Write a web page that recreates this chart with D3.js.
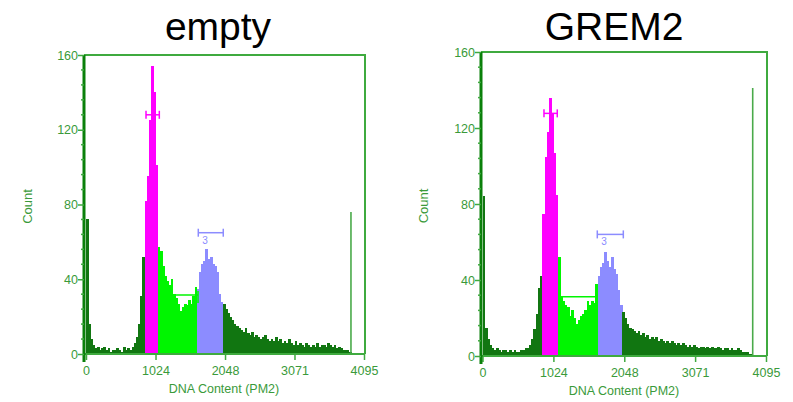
<!DOCTYPE html>
<html><head><meta charset="utf-8">
<script src="https://cdn.jsdelivr.net/npm/d3@7"></script>
<style>html,body{margin:0;padding:0;background:#fff;}svg{display:block;}</style>
</head><body>
<script>
// ---------- DATA ----------
const panelTitles = ["empty", "GREM2"];
const binWidth = 32;            // channels per histogram bin
const xTickValues = [0, 1024, 2048, 3071, 4095];
const yTickValues = [0, 40, 80, 120, 160];
const yMinorStep = 8;
const xLabel = "DNA Content (PM2)";
const yLabel = "Count";

// counts per 32-channel bin (128 bins, channel 0..4095)
const emptyCounts = [
  72,16,8,5,3,4,2,3,4,2, 3,1,2,2,3,2,1,4,2,3,
  2,4,6,9,16,31,52,82,95,125, 154,140,101,57,55,47,42,39,37,40,
  32,30,27,23,25,27,26,29,27,31, 36,35,44,48,50,56,51,52,48,47,
  44,32,28,27,24,22,20,18,16,15, 14,13,12,14,11,10,12,9,10,9,
  8,9,10,8,7,8,7,9,7,8, 6,7,6,8,6,5,7,5,6,5,
  4,6,5,4,5,4,6,4,5,5, 4,6,5,4,5,3,4,3,2,2,
  2,1,0,0,0,0,0,0
];
const grem2Counts = [
  84,15,9,6,4,3,4,3,2,3, 3,2,3,2,3,2,2,3,3,4,
  4,6,9,14,22,36,42,75,105,118, 136,128,107,85,52,31,29,27,26,21,
  24,20,17,19,21,22,24,29,27,29, 28,38,42,47,49,55,50,47,52,46,
  43,35,27,23,20,17,15,14,13,12, 13,11,12,10,11,9,10,9,10,8,
  9,8,7,8,7,8,7,6,7,6, 7,6,5,6,5,6,5,4,5,5,
  4,5,4,5,4,4,5,4,3,4, 4,3,4,3,3,4,3,2,2,2,
  1,1,0,0,0,0,0,0
];

// gate ranges [start, end) in channels
const emptyG1 = [864, 1056], emptyS = [1056, 1632], emptyG2 = [1632, 2016];
const grem2G1 = [864, 1088], grem2S = [1088, 1664], grem2G2 = [1664, 2016];

// markers [start, end, level]
const emptyMarkers = [[884, 1080, 128], [1134, 1650, 31.6], [1654, 2022, 64.9]];
const grem2Markers = [[888, 1080, 127.7], [1119, 1640, 31.2], [1658, 2034, 64]];

// last-channel pile-up line [channel, count]
const emptyEnd = [3903, 76];
const grem2End = [3903, 141];

// ---------- STYLE / LAYOUT ----------
const W = 793, H = 402;
const C = {
  dark: "#117611", s: "#00f500", g1: "#ff00ff", g2: "#8c8cff",
  axis: "#0a800a", frame: "#3faa3f", text: "#3a9a3a", endLine: "#4aaa4a"
};
const layouts = [
  {x0: 86, x1: 364, y0: 354, y1: 55, axisX: 84, titleX: 218, labelX: 224, countX: 27,
   data: emptyCounts, g1: emptyG1, s: emptyS, g2: emptyG2, markers: emptyMarkers, end: emptyEnd},
  {x0: 482.5, x1: 766, y0: 356, y1: 52, axisX: 481, titleX: 614, labelX: 624, countX: 423,
   data: grem2Counts, g1: grem2G1, s: grem2S, g2: grem2G2, markers: grem2Markers, end: grem2End}
];

const svg = d3.select("body").append("svg").attr("width", W).attr("height", H);

layouts.forEach((L, pi) => {
  const x = d3.scaleLinear().domain([0, 4095]).range([L.x0, L.x1]);
  const y = d3.scaleLinear().domain([0, 160]).range([L.y0, L.y1]);
  const g = svg.append("g");

  // title
  g.append("text").attr("x", L.titleX).attr("y", 40).attr("text-anchor", "middle")
    .attr("font-family", "Liberation Sans, Arial, sans-serif").attr("font-size", 39)
    .attr("fill", "#000").text(panelTitles[pi]);

  const colorFor = ch => {
    if (ch >= L.g1[0] && ch < L.g1[1]) return C.g1;
    if (ch >= L.s[0] && ch < L.s[1]) return C.s;
    if (ch >= L.g2[0] && ch < L.g2[1]) return C.g2;
    return C.dark;
  };

  // histogram bars
  g.append("g").attr("shape-rendering", "crispEdges").selectAll("rect").data(L.data).join("rect")
    .attr("x", (d, i) => x(i * binWidth))
    .attr("width", (d, i) => x((i + 1) * binWidth) - x(i * binWidth) + 0.6)
    .attr("y", d => y(d))
    .attr("height", d => y(0) - y(d))
    .attr("fill", (d, i) => colorFor(i * binWidth));

  // end line
  g.append("line").attr("x1", x(L.end[0])).attr("x2", x(L.end[0]))
    .attr("y1", y(0)).attr("y2", y(L.end[1]))
    .attr("stroke", C.endLine).attr("stroke-width", 1.6);

  // markers
  const mColors = [C.g1, C.s, C.g2];
  L.markers.forEach((m, mi) => {
    const mg = g.append("g").attr("stroke", mColors[mi]).attr("stroke-width", 1.5);
    mg.append("line").attr("x1", x(m[0])).attr("x2", x(m[1])).attr("y1", y(m[2])).attr("y2", y(m[2]));
    [m[0], m[1]].forEach(c => {
      mg.append("line").attr("x1", x(c)).attr("x2", x(c))
        .attr("y1", y(m[2]) - 4).attr("y2", y(m[2]) + (mi === 1 ? 8 : 4));
    });
    if (mi === 2) {
      g.append("text").attr("x", x(m[0]) + 4).attr("y", y(m[2]) + 11)
        .attr("font-family", "Liberation Sans, Arial, sans-serif").attr("font-size", 10)
        .attr("fill", mColors[mi]).text("3");
    }
  });

  // frame (top & right)
  g.append("path")
    .attr("d", `M${L.axisX},${L.y1}H${L.x1 + 1}V${L.y0}`)
    .attr("fill", "none").attr("stroke", C.frame).attr("stroke-width", 2);

  // x axis
  const xa = g.append("g").attr("transform", `translate(0,${L.y0})`)
    .call(d3.axisBottom(x).tickValues(xTickValues).tickSize(6).tickSizeOuter(0).tickFormat(d3.format("d")));
  xa.select(".domain").attr("stroke", C.frame).attr("stroke-width", 2)
    .attr("d", `M${L.axisX},0H${L.x1 + 1}`);
  xa.selectAll(".tick line").attr("stroke", C.frame).attr("stroke-width", 1.5);
  xa.selectAll(".tick text").attr("fill", C.text).attr("font-size", 12.5)
    .attr("font-family", "Liberation Sans, Arial, sans-serif").attr("dy", "0.95em");

  // y axis
  const ya = g.append("g").attr("transform", `translate(${L.axisX},0)`)
    .call(d3.axisLeft(y).tickValues(yTickValues).tickSize(6).tickSizeOuter(0));
  ya.select(".domain").attr("stroke", C.axis).attr("stroke-width", 3)
    .attr("d", `M0,${L.y1}V${L.y0 + 8}`);
  ya.selectAll(".tick line").attr("stroke", C.frame).attr("stroke-width", 1.5);
  ya.selectAll(".tick text").attr("fill", C.text).attr("font-size", 12.5)
    .attr("font-family", "Liberation Sans, Arial, sans-serif").attr("x", -6);
  const minors = d3.range(0, 161, yMinorStep).filter(v => v % 40 !== 0);
  ya.append("g").selectAll("line").data(minors).join("line")
    .attr("x1", -3).attr("x2", 0).attr("y1", d => y(d)).attr("y2", d => y(d))
    .attr("stroke", C.frame).attr("stroke-width", 1.5);

  // axis titles
  g.append("text").attr("x", L.labelX).attr("y", L.y0 + 39).attr("text-anchor", "middle")
    .attr("font-family", "Liberation Sans, Arial, sans-serif").attr("font-size", 12.5)
    .attr("fill", C.text).text(xLabel);
  g.append("text").attr("transform", `translate(${L.countX + 5},${(L.y0 + L.y1) / 2 + 2}) rotate(-90)`)
    .attr("text-anchor", "middle")
    .attr("font-family", "Liberation Sans, Arial, sans-serif").attr("font-size", 13)
    .attr("fill", C.text).text(yLabel);
});
</script>
</body></html>
